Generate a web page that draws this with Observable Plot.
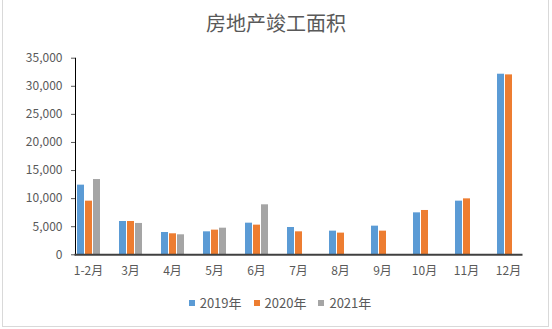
<!DOCTYPE html>
<html><head><meta charset="utf-8">
<script src="https://cdn.jsdelivr.net/npm/d3@7"></script>
<script src="https://cdn.jsdelivr.net/npm/@observablehq/plot@0.6"></script>
<style>
body{margin:0;background:#fff;font-family:"Noto Sans CJK SC","Noto Sans",sans-serif;}
#wrap{position:relative;width:552px;height:329px;overflow:hidden;background:#fff;}
#frame{position:absolute;left:2px;top:-1px;width:547px;height:328px;border:1px solid #d9d9d9;box-sizing:border-box;}
#title{position:absolute;top:13px;left:0;width:552px;text-align:center;font-size:20px;line-height:20px;color:#595959;}
#chart{position:absolute;top:45px;left:0;}
#legend{position:absolute;top:295px;left:4px;width:552px;display:flex;justify-content:center;gap:12px;font-size:13px;line-height:16px;color:#595959;}
#legend .item{display:flex;align-items:center;gap:5px;}
#legend .sw{width:6px;height:6px;display:inline-block;}
</style>
</head><body>
<div id="wrap">
  <div id="frame"></div>
  <div id="title">房地产竣工面积</div>
  <div id="chart"></div>
  <div id="legend"></div>
</div>
<script>
const months = ["1-2月","3月","4月","5月","6月","7月","8月","9月","10月","11月","12月"];
const series = ["2019年","2020年","2021年"];
const v2019 = [12400,5930,3970,4090,5630,4860,4210,5100,7470,9550,32150];
const v2020 = [9550,5930,3740,4390,5280,4090,3860,4210,7890,9960,32030];
const v2021 = [13400,5580,3560,4740,8900];
const yTicks = [0,5000,10000,15000,20000,25000,30000,35000];
const colors = ["#5B9BD5","#ED7D31","#A5A5A5"];

const seriesValues = [v2019, v2020, v2021];
const data = [];
months.forEach((m, i) => {
  seriesValues.forEach((arr, j) => {
    if (arr[i] != null) data.push({month: m, series: series[j], value: arr[i]});
  });
});

const chart = Plot.plot({
  width: 552,
  height: 245,
  marginTop: 12.7,
  marginBottom: 35.7,
  marginLeft: 63,
  marginRight: 19,
  style: {fontFamily: '"Noto Sans CJK SC","Noto Sans",sans-serif', fontSize: "12px", color: "#595959", background: "transparent", overflow: "visible"},
  fx: {domain: months, paddingInner: 0.39, paddingOuter: 0.195, label: null, tickSize: 0, tickPadding: 12},
  x: {domain: series, paddingInner: 0.16, paddingOuter: 0.08, axis: null},
  y: {domain: [0, 35000], ticks: yTicks, tickFormat: d3.format(","), label: null, tickSize: 4, tickPadding: 9},
  color: {domain: series, range: colors},
  marks: [
    Plot.barY(data, {fx: "month", x: "series", y: "value", fill: "series"}),
    Plot.frame({anchor: "left", facet: "super", stroke: "#000", strokeWidth: 1}),
    Plot.frame({anchor: "bottom", facet: "super", stroke: "#404040", strokeWidth: 2})
  ]
});
document.getElementById("chart").appendChild(chart);

const legend = document.getElementById("legend");
series.forEach((s, i) => {
  const item = document.createElement("div");
  item.className = "item";
  const sw = document.createElement("span");
  sw.className = "sw";
  sw.style.background = colors[i];
  const t = document.createElement("span");
  t.textContent = s;
  item.appendChild(sw); item.appendChild(t);
  legend.appendChild(item);
});
</script>
</body></html>
